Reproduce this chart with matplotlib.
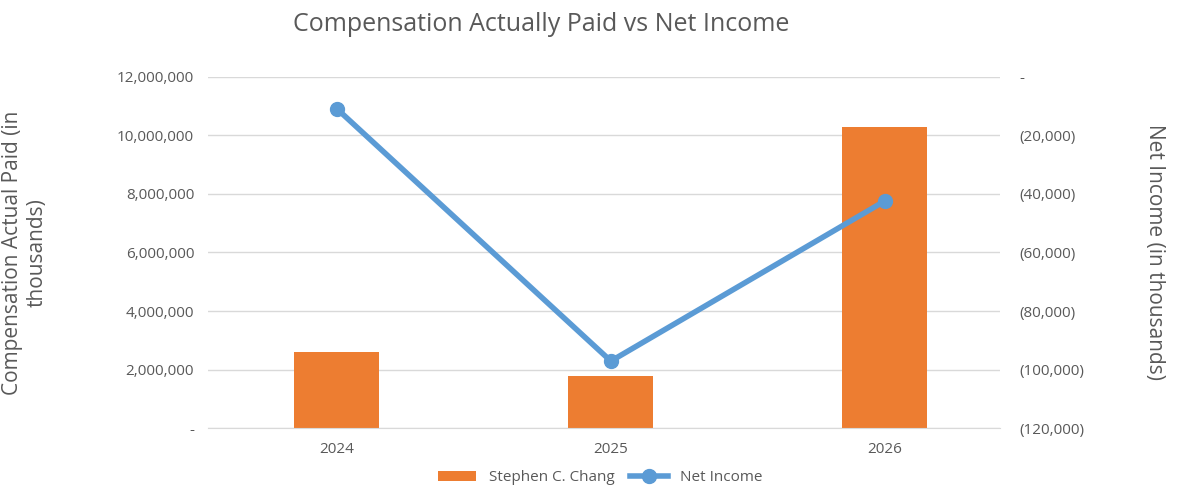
import matplotlib.pyplot as plt
import matplotlib.ticker as ticker

# ── Data ──────────────────────────────────────────────────────────────────────
years = ["2024", "2025", "2026"]
cap_values = [2_600_000, 1_780_000, 10_290_000]
net_income = [-10_900, -97_100, -42_400]

plt.rcParams["font.family"] = ["Open Sans", "DejaVu Sans"]
GRAY = "#595959"

fig = plt.figure(figsize=(11.89, 4.99), dpi=100)
ax = fig.add_axes([0.175, 0.142, 0.666, 0.704])
ax2 = ax.twinx()

x = range(len(years))
ax.bar(x, cap_values, width=0.31, color="#ED7D31", label="Stephen C. Chang", zorder=2)
ax2.plot(x, net_income, color="#5B9BD5", linewidth=4, marker="o", markersize=10,
         label="Net Income", zorder=3)

ax.set_xlim(-0.47, 2.42)
ax.set_ylim(0, 12_000_000)
ax.set_yticks(range(0, 12_000_001, 2_000_000))
ax2.set_ylim(-120_000, 0)
ax2.set_yticks(range(-120_000, 1, 20_000))

ax.yaxis.set_major_formatter(ticker.FuncFormatter(lambda v, _: "-" if v == 0 else f"{v:,.0f}"))
ax2.yaxis.set_major_formatter(ticker.FuncFormatter(
    lambda v, _: "-" if v == 0 else f"({abs(v):,.0f})"))

ax.set_xticks(list(x))
ax.set_xticklabels(years)
ax.grid(axis="y", color="#D9D9D9", linewidth=1, zorder=0)
ax.set_axisbelow(True)
for a in (ax, ax2):
    for s in a.spines.values():
        s.set_visible(False)
    a.tick_params(length=0, labelsize=11, colors=GRAY, pad=10)
ax.spines["bottom"].set_visible(True)
ax.spines["bottom"].set_color("#D9D9D9")
ax2.tick_params(pad=14)

ax.set_ylabel("Compensation Actual Paid (in\nthousands)", fontsize=15, color=GRAY, labelpad=50)
ax2.set_ylabel("Net Income (in thousands)", fontsize=15, color=GRAY, rotation=270, labelpad=58)
fig.suptitle("Compensation Actually Paid vs Net Income", fontsize=18, color=GRAY, x=0.455, y=0.975)

h1, l1 = ax.get_legend_handles_labels()
h2, l2 = ax2.get_legend_handles_labels()
fig.legend(h1 + h2, l1 + l2, loc="lower center", ncol=2, frameon=False,
           fontsize=11, labelcolor=GRAY, bbox_to_anchor=(0.505, 0.0), handlelength=2.5,
           columnspacing=1.0)

plt.savefig("out.png", dpi=100)
